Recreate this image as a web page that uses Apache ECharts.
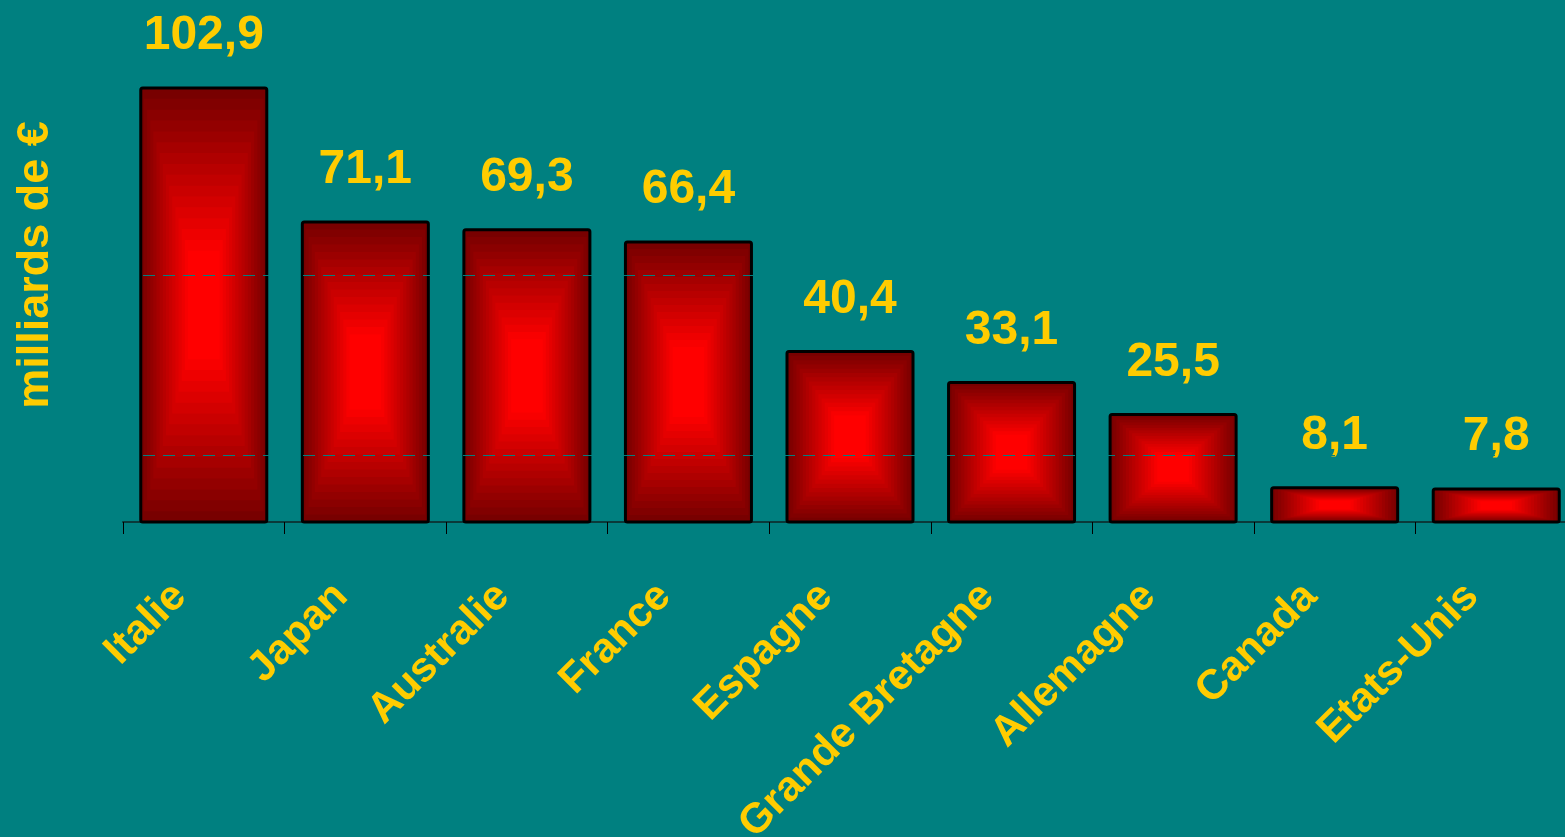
<!DOCTYPE html>
<html>
<head>
<meta charset="utf-8">
<script src="https://cdn.jsdelivr.net/npm/echarts@6/dist/echarts.min.js"></script>
<style>
  html, body { margin: 0; padding: 0; background: #008080; }
  #main { width: 1565px; height: 837px; }
</style>
</head>
<body>
<div id="main"></div>
<script>
// données
const categories = ['Italie', 'Japan', 'Australie', 'France', 'Espagne', 'Grande Bretagne', 'Allemagne', 'Canada', 'Etats-Unis'];
const values = [102.9, 71.1, 69.3, 66.4, 40.4, 33.1, 25.5, 8.1, 7.8];
const dashRefs = [15.9, 58.6];

const FONT = '"Liberation Sans", Arial, sans-serif';
const YELLOW = '#FFCC00';
const DARK = [120, 0, 0];
const BRIGHT = [255, 0, 0];

function mix(t) {
    const c = DARK.map((d, i) => Math.round(d + (BRIGHT[i] - d) * t));
    return 'rgb(' + c.join(',') + ')';
}

// dégradé "rectangle depuis le centre" : rectangles imbriqués
function renderBar(params, api) {
    const idx = api.value(0);
    const top = api.coord([idx, api.value(1)]);
    const base = api.coord([idx, 0]);
    const bw = api.size([1, 0])[0] * 0.78;
    const h = base[1] - top[1];
    const cx = top[0], cy = (top[1] + base[1]) / 2;
    const steps = 20;
    const children = [];
    for (let k = 0; k < steps; k++) {
        const t = k / steps;
        const hw = (bw / 2) * (1 - t), hh = (h / 2) * (1 - t);
        children.push({
            type: 'rect',
            shape: { x: cx - hw, y: cy - hh, width: hw * 2, height: hh * 2 },
            style: { fill: mix(Math.min(1, t * 1.35)) },
            silent: true
        });
    }
    children.push({
        type: 'rect',
        shape: { x: cx - bw / 2, y: top[1], width: bw, height: h, r: 2 },
        style: { fill: null, stroke: '#000', lineWidth: 3 }
    });
    children.push({
        type: 'text',
        x: cx,
        y: top[1] - 28,
        style: {
            text: api.value(1).toFixed(1).replace('.', ','),
            fill: YELLOW,
            font: 'bold 48px ' + FONT,
            align: 'center',
            verticalAlign: 'bottom'
        }
    });
    return { type: 'group', children: children };
}

const chart = echarts.init(document.getElementById('main'));
chart.setOption({
    backgroundColor: '#008080',
    animation: false,
    grid: { left: 123, top: 88, width: 1454, height: 434, outerBoundsMode: 'none', containLabel: false },
    xAxis: {
        type: 'category',
        data: categories,
        axisLine: { lineStyle: { color: '#0a3a3a', width: 2 } },
        axisTick: { show: true, length: 12, lineStyle: { color: '#000', width: 1 } },
        axisLabel: {
            rotate: 45,
            interval: 0,
            margin: 44,
            padding: [0, 34, 0, 0],
            color: YELLOW,
            fontFamily: FONT,
            fontWeight: 'bold',
            fontSize: 42
        }
    },
    yAxis: {
        type: 'value',
        min: 0,
        max: 102.9,
        show: false
    },
    graphic: [{
        type: 'text',
        x: 36,
        y: 265,
        rotation: Math.PI / 2,
        style: {
            text: 'milliards de €',
            fill: YELLOW,
            font: 'bold 45px ' + FONT,
            align: 'center',
            verticalAlign: 'middle'
        }
    }],
    series: [{
        type: 'custom',
        renderItem: renderBar,
        encode: { x: 0, y: 1 },
        data: values.map((v, i) => [i, v]),
        z: 2
    }, {
        type: 'line',
        data: [],
        z: 5,
        markLine: {
            silent: true,
            symbol: 'none',
            label: { show: false },
            lineStyle: { color: '#008080', type: [12, 8], width: 1 },
            data: dashRefs.map(v => ({ yAxis: v }))
        }
    }]
});
</script>
</body>
</html>
